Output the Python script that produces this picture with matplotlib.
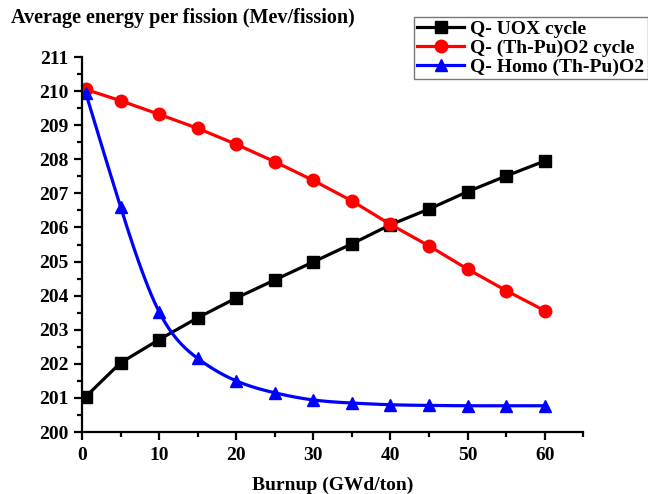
import numpy as np
import matplotlib
matplotlib.use("Agg")
import matplotlib.pyplot as plt
from matplotlib.ticker import MultipleLocator

plt.rcParams['font.family'] = ['Liberation Serif', 'DejaVu Serif']
plt.rcParams['font.weight'] = 'bold'

# data
burnup = [0.5, 5, 10, 15, 20, 25, 30, 35, 40, 45, 50, 55, 60]
q_uox = [201.04, 202.03, 202.71, 203.35, 203.93, 204.46, 204.99,
         205.52, 206.08, 206.54, 207.05, 207.51, 207.95]
q_thpu = [210.05, 209.72, 209.32, 208.91, 208.44, 207.93, 207.38,
          206.78, 206.09, 205.46, 204.78, 204.15, 203.56]
q_homo = [209.94, 206.61, 203.53, 202.16, 201.50, 201.15, 200.94,
          200.85, 200.80, 200.78, 200.77, 200.77, 200.77]
labels = ['Q- UOX cycle', 'Q- (Th-Pu)O2 cycle', 'Q- Homo (Th-Pu)O2']


def natural_spline(x, y, xs):
    # plain natural cubic spline, used only to draw the smooth blue line
    x = np.asarray(x, float)
    y = np.asarray(y, float)
    n = len(x)
    h = np.diff(x)
    A = np.zeros((n, n))
    b = np.zeros(n)
    A[0, 0] = A[-1, -1] = 1
    for i in range(1, n - 1):
        A[i, i - 1] = h[i - 1]
        A[i, i] = 2 * (h[i - 1] + h[i])
        A[i, i + 1] = h[i]
        b[i] = 6 * ((y[i + 1] - y[i]) / h[i] - (y[i] - y[i - 1]) / h[i - 1])
    M = np.linalg.solve(A, b)
    idx = np.clip(np.searchsorted(x, xs) - 1, 0, n - 2)
    x0, x1 = x[idx], x[idx + 1]
    hh = x1 - x0
    t0, t1 = x1 - xs, xs - x0
    return (M[idx] * t0**3 / (6 * hh) + M[idx + 1] * t1**3 / (6 * hh)
            + (y[idx] / hh - M[idx] * hh / 6) * t0
            + (y[idx + 1] / hh - M[idx + 1] * hh / 6) * t1)


fig = plt.figure(figsize=(6.48, 4.94), dpi=100)
ax = fig.add_axes([0.1265, 0.1255, 0.7735, 0.759])

lw = 2.3
ax.plot(burnup, q_uox, color='black', lw=lw, marker='s', ms=8, label=labels[0])
ax.plot(burnup, q_thpu, color='red', lw=lw, marker='o', ms=9, label=labels[1])
xs = np.linspace(burnup[0], burnup[-1], 400)
ax.plot(xs, natural_spline(burnup, q_homo, xs), color='blue', lw=lw)
ax.plot(burnup, q_homo, color='blue', lw=0, marker='^', ms=9)
# legend proxy for the blue series
ax.plot([], [], color='blue', lw=lw, marker='^', ms=9, label=labels[2])

ax.set_xlim(0, 65)
ax.set_ylim(200, 211)
ax.xaxis.set_major_locator(MultipleLocator(10))
ax.xaxis.set_minor_locator(MultipleLocator(5))
ax.yaxis.set_major_locator(MultipleLocator(1))
ax.yaxis.set_minor_locator(MultipleLocator(0.5))
ax.spines['top'].set_visible(False)
ax.spines['right'].set_visible(False)
for s in ['left', 'bottom']:
    ax.spines[s].set_linewidth(1.6)
ax.tick_params(which='major', direction='out', length=6, width=1.6, labelsize=14)
ax.tick_params(which='minor', direction='out', length=3.5, width=1.6)
ax.tick_params(axis='x', pad=5)
for lab in ax.get_xticklabels() + ax.get_yticklabels():
    lab.set_fontweight('bold')

ax.set_xlabel('Burnup (GWd/ton)', fontsize=14, fontweight='bold', labelpad=9)
fig.text(0.017, 0.963, 'Average energy per fission (Mev/fission)',
         fontsize=14.5, fontweight='bold', va='center', ha='left')

leg = fig.legend(loc='upper right', bbox_to_anchor=(1.0, 0.966), fontsize=14,
                 frameon=True, fancybox=False, edgecolor='#555555',
                 handlelength=2.4, handletextpad=0.3, borderpad=0.2,
                 labelspacing=0.05, borderaxespad=0.0)
leg.get_frame().set_linewidth(1.0)
for t in leg.get_texts():
    t.set_fontweight('bold')

fig.savefig('out.png', dpi=100)
